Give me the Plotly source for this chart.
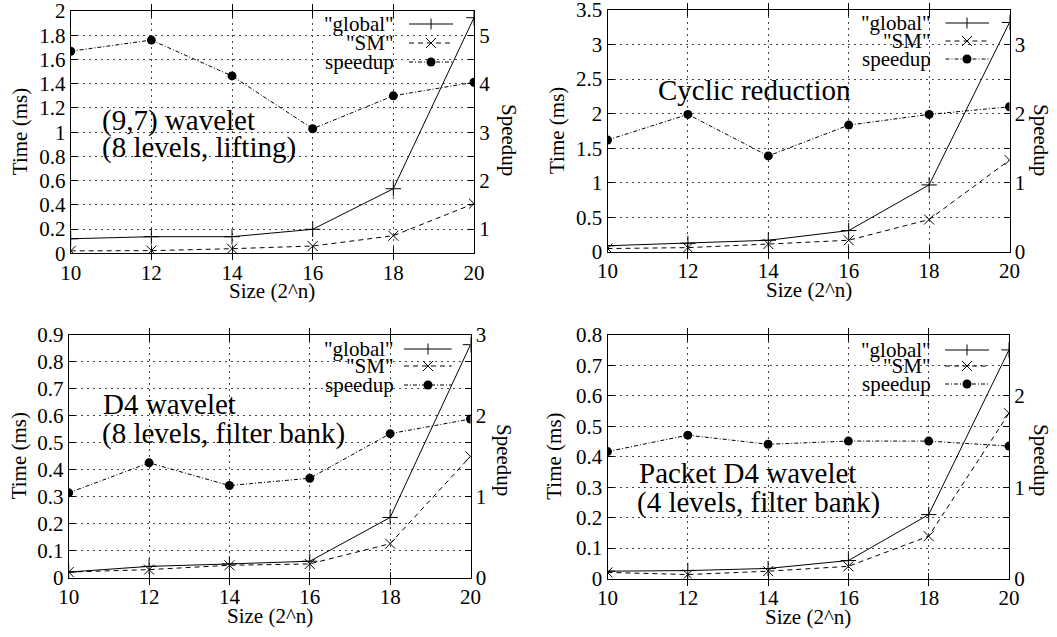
import plotly.graph_objects as go

W, H = 1057, 637

sizes = [10, 12, 14, 16, 18, 20]

# Panel 1: (9,7) wavelet
p1_global = [0.12, 0.137, 0.137, 0.198, 0.533, 1.945]
p1_sm = [0.02, 0.022, 0.038, 0.06, 0.145, 0.41]
p1_speedup = [4.67, 4.90, 4.16, 3.07, 3.75, 4.03]

# Panel 2: Cyclic reduction
p2_global = [0.09, 0.125, 0.17, 0.31, 0.97, 3.32]
p2_sm = [0.05, 0.063, 0.115, 0.17, 0.47, 1.33]
p2_speedup = [1.62, 1.99, 1.39, 1.835, 1.99, 2.10]

# Panel 3: D4 wavelet
p3_global = [0.022, 0.043, 0.052, 0.062, 0.224, 0.863]
p3_sm = [0.022, 0.031, 0.047, 0.052, 0.127, 0.45]
p3_speedup = [1.05, 1.42, 1.14, 1.23, 1.78, 1.96]

# Panel 4: Packet D4 wavelet
p4_global = [0.024, 0.026, 0.033, 0.059, 0.21, 0.751]
p4_sm = [0.02, 0.013, 0.024, 0.04, 0.139, 0.543]
p4_speedup = [1.39, 1.57, 1.47, 1.505, 1.505, 1.45]

x_ticks = [10, 12, 14, 16, 18, 20]
legend_labels = ['"global"', '"SM"', 'speedup']
titles = [["(9,7) wavelet", "(8 levels, lifting)"],
          ["Cyclic reduction"],
          ["D4 wavelet", "(8 levels, filter bank)"],
          ["Packet D4 wavelet", "(4 levels, filter bank)"]]

FONT = "Liberation Serif"

panels = [
    dict(px=(70.7, 474), py=(11, 253.3), yr=[0, 2], dy=0.2, y2r=[0.5, 5.5], dy2=1,
         g=p1_global, s=p1_sm, sp=p1_speedup,
         title_pos=[(99.8, 120), (99.8, 148)],
         leg_right=396, leg_line=(409, 453), leg_mark=431, leg_rows=(24, 43, 62),
         time_x=20, sp_x=509, sp_y=140),
    dict(px=(607.5, 1009.5), py=(10, 252), yr=[0, 3.5], dy=0.5, y2r=[0, 3.5], dy2=1,
         g=p2_global, s=p2_sm, sp=p2_speedup,
         title_pos=[(655.6, 90)],
         leg_right=933, leg_line=(945.5, 989), leg_mark=967, leg_rows=(23, 41, 59),
         time_x=557, sp_x=1041, sp_y=140),
    dict(px=(68.7, 470.5), py=(334.7, 578), yr=[0, 0.9], dy=0.1, y2r=[0, 3], dy2=1,
         g=p3_global, s=p3_sm, sp=p3_speedup,
         title_pos=[(100.5, 404), (99.8, 433)],
         leg_right=396, leg_line=(404, 451.7), leg_mark=428, leg_rows=(349, 366, 385),
         time_x=19, sp_x=504, sp_y=460),
    dict(px=(607.5, 1009), py=(335, 578.5), yr=[0, 0.8], dy=0.1, y2r=[0, 2.6667], dy2=1,
         g=p4_global, s=p4_sm, sp=p4_speedup,
         title_pos=[(637, 473), (635.3, 503)],
         leg_right=933, leg_line=(945, 989), leg_mark=967, leg_rows=(350, 366, 384),
         time_x=554, sp_x=1041, sp_y=460),
]

def fx(px):
    return px / W

def fy(py):
    return 1 - py / H

fig = go.Figure()
layout = dict(width=W, height=H,
              margin=dict(l=0, r=0, t=0, b=0, pad=0, autoexpand=False),
              paper_bgcolor="white", plot_bgcolor="white", showlegend=False,
              hovermode=False,
              font=dict(family=FONT, size=21, color="black"))
annotations = []
shapes = []

GRID = "#444444"
for i, p in enumerate(panels):
    xn = i + 1
    y1n = 2 * i + 1
    y2n = 2 * i + 2
    xa = "xaxis" if xn == 1 else f"xaxis{xn}"
    ya1 = "yaxis" if y1n == 1 else f"yaxis{y1n}"
    ya2 = f"yaxis{y2n}"
    xref = "x" if xn == 1 else f"x{xn}"
    y1ref = "y" if y1n == 1 else f"y{y1n}"
    y2ref = f"y{y2n}"
    dom_x = [fx(p["px"][0]), fx(p["px"][1])]
    dom_y = [fy(p["py"][1]), fy(p["py"][0])]
    common = dict(showline=True, linecolor="black", linewidth=1, ticks="inside",
                  ticklen=6, tickcolor="black", tickwidth=1, zeroline=False,
                  automargin=False, ticklabeloverflow="allow", fixedrange=True,
                  tickfont=dict(family=FONT, size=21, color="black"))
    layout[xa] = dict(domain=dom_x, range=[10, 20], anchor=y1ref, tickvals=x_ticks,
                      mirror="allticks", showgrid=True, gridcolor=GRID, gridwidth=1,
                      griddash="2px,4px", ticklabelstandoff=0, **common)
    layout[ya1] = dict(domain=dom_y, range=p["yr"], anchor=xref, dtick=p["dy"],
                       tick0=0, mirror="allticks", showgrid=True, gridcolor=GRID,
                       gridwidth=1, griddash="2px,4px", ticklabelstandoff=0, **common)
    layout[ya2] = dict(range=p["y2r"], anchor=xref, overlaying=y1ref, side="right",
                       dtick=p["dy2"], tick0=0, showgrid=False, ticklabelstandoff=0,
                       **common)

    fig.add_trace(go.Scatter(x=sizes, y=p["g"], xaxis=xref, yaxis=y1ref, mode="lines+markers",
                             line=dict(color="black", width=1),
                             marker=dict(symbol="cross-thin-open", size=11,
                                         line=dict(color="black", width=1))))
    fig.add_trace(go.Scatter(x=sizes, y=p["s"], xaxis=xref, yaxis=y1ref, mode="lines+markers",
                             line=dict(color="black", width=1, dash="5px,4px"),
                             marker=dict(symbol="x-thin-open", size=10,
                                         line=dict(color="black", width=1))))
    fig.add_trace(go.Scatter(x=sizes, y=p["sp"], xaxis=xref, yaxis=y2ref, mode="lines+markers",
                             line=dict(color="black", width=1, dash="4px,2px,1px,2px"),
                             marker=dict(symbol="circle", size=9, color="black")))

    # panel titles
    for (tx, ty), txt in zip(p["title_pos"], titles[i]):
        annotations.append(dict(x=fx(tx), y=fy(ty), xref="paper", yref="paper",
                                text=txt, showarrow=False, xanchor="left", yanchor="middle",
                                font=dict(family=FONT, size=29, color="black")))
    # axis titles
    cx = (p["px"][0] + p["px"][1]) / 2
    cy = (p["py"][0] + p["py"][1]) / 2
    annotations.append(dict(x=fx(cx), y=fy(p["py"][1] + 38), xref="paper", yref="paper",
                            text="Size (2^n)", showarrow=False, xanchor="center",
                            yanchor="middle", font=dict(family=FONT, size=21)))
    annotations.append(dict(x=fx(p["time_x"]), y=fy(cy), xref="paper", yref="paper",
                            text="Time (ms)", showarrow=False, textangle=-90,
                            xanchor="center", yanchor="middle", font=dict(family=FONT, size=21)))
    annotations.append(dict(x=fx(p["sp_x"]), y=fy(p["sp_y"]), xref="paper", yref="paper",
                            text="Speedup", showarrow=False, textangle=90,
                            xanchor="center", yanchor="middle", font=dict(family=FONT, size=21)))

    # custom legend (text on left, sample on right)
    dashes = ["solid", "5px,4px", "4px,2px,1px,2px"]
    for k, (lab, ry) in enumerate(zip(legend_labels, p["leg_rows"])):
        annotations.append(dict(x=fx(p["leg_right"]), y=fy(ry), xref="paper", yref="paper",
                                text=lab, showarrow=False, xanchor="right", yanchor="middle",
                                font=dict(family=FONT, size=21)))
        x0, x1 = p["leg_line"]
        shapes.append(dict(type="line", xref="paper", yref="paper",
                           x0=fx(x0), x1=fx(x1), y0=fy(ry), y1=fy(ry),
                           line=dict(color="black", width=1, dash=dashes[k])))
        m = p["leg_mark"]
        if k == 0:
            shapes.append(dict(type="line", xref="paper", yref="paper", x0=fx(m), x1=fx(m),
                               y0=fy(ry - 5.5), y1=fy(ry + 5.5), line=dict(color="black", width=1)))
        elif k == 1:
            shapes.append(dict(type="line", xref="paper", yref="paper", x0=fx(m - 5), x1=fx(m + 5),
                               y0=fy(ry - 5), y1=fy(ry + 5), line=dict(color="black", width=1)))
            shapes.append(dict(type="line", xref="paper", yref="paper", x0=fx(m - 5), x1=fx(m + 5),
                               y0=fy(ry + 5), y1=fy(ry - 5), line=dict(color="black", width=1)))
        else:
            shapes.append(dict(type="circle", xref="paper", yref="paper", x0=fx(m - 4.5),
                               x1=fx(m + 4.5), y0=fy(ry + 4.5), y1=fy(ry - 4.5),
                               fillcolor="black", line=dict(color="black", width=0)))

layout["annotations"] = annotations
layout["shapes"] = shapes
fig.update_layout(**layout)
# remove the browser's default 8px page margin so the figure sits at the window origin
fig.write_html("out.html", config={"displayModeBar": False, "staticPlot": True},
               post_script="document.body.style.margin='0px';")
